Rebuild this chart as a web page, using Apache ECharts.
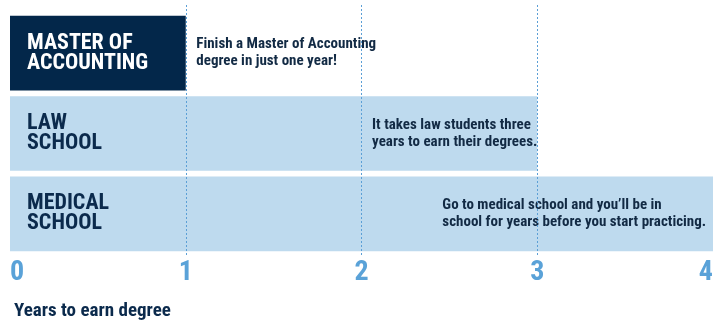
<!DOCTYPE html>
<html><head><meta charset="utf-8">
<script src="https://cdn.jsdelivr.net/npm/echarts@6/dist/echarts.min.js"></script>
<style>html,body{margin:0;padding:0;background:#fff}#c{width:713px;height:325px}</style>
</head><body><div id="c"></div>
<script>
const categories = ['MASTER OF\nACCOUNTING', 'LAW\nSCHOOL', 'MEDICAL\nSCHOOL'];
const years = [1, 3, 4];
const noteText = [
  'Finish a Master of Accounting\ndegree in just one year!',
  'It takes law students three\nyears to earn their degrees.',
  'Go to medical school and you\u2019ll be in\nschool for years before you start practicing.'
];
const noteAt = [1.06, 2.06, 2.46];
const xTicks = [0, 1, 2, 3, 4];
const axisTitle = 'Years to earn degree';

const FONT = '"Roboto Condensed", "Open Sans Condensed", sans-serif';
const NAVY = '#0b2a4c';
const DARK = '#03274a';
const LIGHT = '#bedaee';
const BLUE = '#5aa2d8';

const chart = echarts.init(document.getElementById('c'));
chart.setOption({
  animation: false,
  title: {
    text: axisTitle, left: 9, top: 297,
    textStyle: { fontFamily: FONT, fontSize: 19, fontWeight: 'bold', color: NAVY }
  },
  grid: [
    { left: 10, right: 0, top: 13, bottom: 71, outerBoundsMode: 'none' },
    { left: 10, right: 0, top: 5, bottom: 69, outerBoundsMode: 'none' }
  ],
  xAxis: [
    {
      type: 'value', gridIndex: 0, min: xTicks[0], max: xTicks[xTicks.length - 1], interval: 1,
      axisLine: { show: false }, axisTick: { show: false }, splitLine: { show: false },
      axisLabel: { color: BLUE, fontFamily: FONT, fontSize: 28, fontWeight: 'bold', margin: 5,
        alignMinLabel: 'left', alignMaxLabel: 'right' }
    },
    {
      type: 'value', gridIndex: 1, min: xTicks[0], max: xTicks[xTicks.length - 1], interval: 1, z: 10,
      axisLine: { show: false }, axisTick: { show: false }, axisLabel: { show: false },
      splitLine: { show: true, showMinLine: false, showMaxLine: false,
        lineStyle: { color: '#5b9fd6', type: [2, 2], width: 1 } }
    }
  ],
  yAxis: [
    { type: 'category', gridIndex: 0, data: categories, inverse: true, show: false },
    { type: 'category', gridIndex: 1, data: categories, inverse: true, show: false }
  ],
  series: [
    {
      type: 'bar', xAxisIndex: 0, yAxisIndex: 0, barCategoryGap: '7%',
      data: years.map((v, i) => ({
        value: v,
        itemStyle: { color: i === 0 ? DARK : LIGHT },
        label: { color: i === 0 ? '#ffffff' : NAVY }
      })),
      label: {
        show: true, position: 'insideLeft', distance: 17,
        formatter: p => categories[p.dataIndex],
        fontFamily: FONT, fontSize: 22, fontWeight: 'bold', lineHeight: 20
      }
    },
    {
      type: 'scatter', xAxisIndex: 0, yAxisIndex: 0, symbolSize: 0, z: 5,
      itemStyle: { opacity: 1 },
      data: noteAt.map((x, i) => [x, i]),
      label: {
        show: true, position: 'right', distance: 0,
        formatter: p => noteText[p.dataIndex],
        fontFamily: FONT, fontSize: 15, fontWeight: 'bold', lineHeight: 17, color: '#122a44', opacity: 1
      }
    }
  ]
});
</script></body></html>
